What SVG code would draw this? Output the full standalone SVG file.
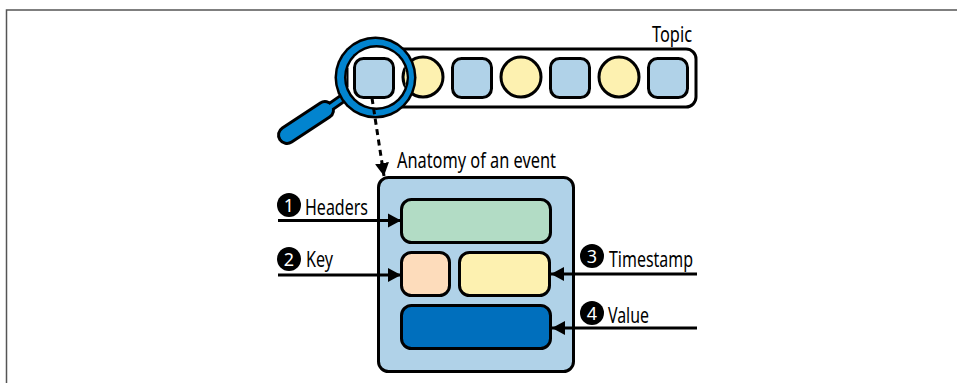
<svg xmlns="http://www.w3.org/2000/svg" width="957" height="383" viewBox="0 0 957 383">
<style>
.o{stroke:#000;stroke-width:3}
.b{fill:#b0d2e8}
.y{fill:#fdf1b0}
.t{font-family:"Noto Sans","DejaVu Sans",sans-serif;font-size:21px;fill:#000}
.n{font-family:"Noto Sans","DejaVu Sans",sans-serif;font-size:18px;fill:#fff;text-anchor:middle}
.c{fill:none;stroke:#000;stroke-width:3}
</style>
<defs>
<marker id="a" markerUnits="userSpaceOnUse" markerWidth="14" markerHeight="15" refX="13" refY="7.500" orient="auto"><path d="M0 .5L13 7.500L0 14.500Z" fill="#000"/></marker>
<clipPath id="lens"><circle cx="376.500" cy="77.500" r="30"/></clipPath>
</defs>
<rect width="957" height="383" fill="#fff"/>
<path d="M6.500 383V10H957" fill="none" stroke="#555" stroke-width="1.500"/>
<g id="topic">
<rect class="o" x="380" y="49" width="316" height="58" rx="10" fill="#fff"/>
<circle class="o y" cx="423" cy="77" r="20"/>
<rect class="o b" x="452.500" y="58.500" width="39" height="39" rx="9"/>
<circle class="o y" cx="521" cy="77" r="20"/>
<rect class="o b" x="550.500" y="58.500" width="39" height="39" rx="9"/>
<circle class="o y" cx="619" cy="77" r="20"/>
<rect class="o b" x="648.500" y="58.500" width="39" height="39" rx="9"/>
<text class="t" x="652" y="42" textLength="40" lengthAdjust="spacingAndGlyphs">Topic</text>
</g>
<g id="magnifier">
<path d="M326 110L346 96" stroke="#000" stroke-width="10" fill="none"/>
<path d="M287 135L325 110" stroke="#000" stroke-width="20" stroke-linecap="round"/>
<path d="M287 135L325 110" stroke="#0284cf" stroke-width="14" stroke-linecap="round"/>
<path d="M326 110L346 96" stroke="#0284cf" stroke-width="4" fill="none"/>
<circle cx="375.500" cy="77.500" r="41" fill="#000"/>
<circle cx="375.500" cy="77.500" r="38.500" fill="#0284cf"/>
<circle cx="376.500" cy="77.500" r="32.500" fill="#000"/>
<circle cx="376.500" cy="77.500" r="30" fill="#fff"/>
<circle class="o y" cx="423" cy="77" r="20" clip-path="url(#lens)"/>
<path d="M347.500 68V87" stroke="#000" stroke-width="2" fill="none"/>
<rect class="o b" x="354.500" y="58.500" width="39" height="39" rx="9"/>
</g>
<g id="event">
<rect class="o b" x="378.500" y="177.500" width="195" height="194" rx="10"/>
<text class="t" x="397" y="168" textLength="159" lengthAdjust="spacingAndGlyphs">Anatomy of an event</text>
</g>
<g id="headers-field"><rect class="o" x="401.500" y="199.500" width="149" height="43" rx="10" fill="#b2dcc5"/></g>
<g id="key-field"><rect class="o" x="401.500" y="252.500" width="48" height="43" rx="10" fill="#fddcbb"/></g>
<g id="timestamp-field"><rect class="o y" x="459.500" y="252.500" width="90" height="43" rx="10"/></g>
<g id="value-field"><rect class="o" x="401.500" y="305.500" width="149" height="43" rx="10" fill="#006fbd"/></g>
<g id="connectors">
<path class="c" d="M372 98L384 176" stroke-dasharray="6 4.500" marker-end="url(#a)"/>
<path class="c" d="M278 220.500H401" marker-end="url(#a)"/>
<path class="c" d="M278 275H401" marker-end="url(#a)"/>
<path class="c" d="M697 274H551" marker-end="url(#a)"/>
<path class="c" d="M697 328H552" marker-end="url(#a)"/>
</g>
<g id="label-headers"><circle cx="289" cy="205" r="12"/><text class="n" x="289" y="211.500">1</text><text class="t" x="305" y="215" textLength="63" lengthAdjust="spacingAndGlyphs">Headers</text></g>
<g id="label-key"><circle cx="289" cy="259" r="12"/><text class="n" x="289" y="265.500">2</text><text class="t" x="306" y="267" textLength="27" lengthAdjust="spacingAndGlyphs">Key</text></g>
<g id="label-timestamp"><circle cx="592" cy="256" r="12"/><text class="n" x="592" y="262.500">3</text><text class="t" x="609" y="267" textLength="84" lengthAdjust="spacingAndGlyphs">Timestamp</text></g>
<g id="label-value"><circle cx="592" cy="313" r="12"/><text class="n" x="592" y="319.500">4</text><text class="t" x="608" y="323" textLength="41" lengthAdjust="spacingAndGlyphs">Value</text></g>
</svg>
